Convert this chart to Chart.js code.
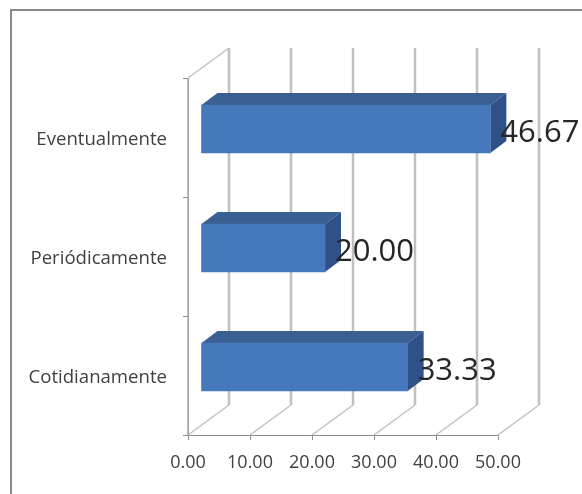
<!DOCTYPE html>
<html>
<head>
<meta charset="utf-8">
<style>
  html, body { margin: 0; padding: 0; background: #fff; }
  #wrap { position: relative; width: 582px; height: 494px; }
</style>
<script src="https://cdn.jsdelivr.net/npm/chart.js@4/dist/chart.umd.min.js"></script>
</head>
<body>
<div id="wrap"><canvas id="barChart" width="582" height="494"></canvas></div>
<script>
const categories = ['Eventualmente', 'Periódicamente', 'Cotidianamente'];
const values = [46.67, 20.00, 33.33];
const axisMin = 0;
const axisMax = 50;
const axisStep = 10;

const FONT = '"Open Sans", Lato, sans-serif';
const GRID = '#c0c0c0';
const AXIS = '#8c8c8c';

// wall depth and bar offset of the fake 3D look
const wallDx = 41, wallDy = -30;
const barDx = 13, barDy = -8.5;
const depthDx = 16, depthDy = -12;

function line(ctx, x1, y1, x2, y2, color, width) {
    ctx.strokeStyle = color;
    ctx.lineWidth = width;
    ctx.beginPath();
    ctx.moveTo(x1, y1);
    ctx.lineTo(x2, y2);
    ctx.stroke();
}

function poly(ctx, pts, color) {
    ctx.fillStyle = color;
    ctx.beginPath();
    pts.forEach((p, i) => i ? ctx.lineTo(p[0], p[1]) : ctx.moveTo(p[0], p[1]));
    ctx.closePath();
    ctx.fill();
}

const frame3d = {
    id: 'frame3d',
    beforeDatasetsDraw(chart) {
        const ctx = chart.ctx;
        const { left, top, bottom } = chart.chartArea;
        const xs = chart.scales.x;

        ctx.save();
        // outer border of the chart object
        line(ctx, 10, 10, 582, 10, '#8a8a8a', 2);
        line(ctx, 11, 9, 11, 494, '#8a8a8a', 2);

        // back wall and floor lines
        xs.ticks.forEach(t => {
            const x = xs.getPixelForValue(t.value);
            line(ctx, x + wallDx, top + wallDy, x + wallDx, bottom + wallDy, GRID, 2.5);
            line(ctx, x, bottom, x + wallDx, bottom + wallDy, '#c0c0c0', 1.5);
        });
        // side wall
        line(ctx, left, top, left, bottom, '#a6a6a6', 1.5);
        line(ctx, left, top, left + wallDx, top + wallDy, '#c0c0c0', 1.5);
        ctx.restore();

        // bars are drawn shifted into the depth of the box
        ctx.save();
        ctx.translate(barDx, barDy);
        chart.getDatasetMeta(0).data.forEach(bar => {
            const h = bar.height / 2;
            poly(ctx, [[bar.base, bar.y - h], [bar.base + depthDx, bar.y - h + depthDy],
                [bar.x + depthDx, bar.y - h + depthDy], [bar.x, bar.y - h]], '#3a5f92');
            poly(ctx, [[bar.x, bar.y - h], [bar.x + depthDx, bar.y - h + depthDy],
                [bar.x + depthDx, bar.y + h + depthDy], [bar.x, bar.y + h]], '#2f5089');
        });
    },
    afterDatasetsDraw(chart) {
        const ctx = chart.ctx;
        ctx.restore();

        ctx.save();
        ctx.font = '31px ' + FONT;
        ctx.fillStyle = '#262626';
        ctx.textAlign = 'left';
        ctx.textBaseline = 'middle';
        chart.getDatasetMeta(0).data.forEach((bar, i) => {
            ctx.fillText(values[i].toFixed(2), bar.x + barDx + 10, bar.y + barDy + 4);
        });
        ctx.restore();
    }
};

const ctx = document.getElementById('barChart').getContext('2d');
const barChart = new Chart(ctx, {
    type: 'bar',
    data: {
        labels: categories,
        datasets: [{
            data: values,
            backgroundColor: '#4679bb',
            borderWidth: 0,
            barThickness: 48,
            clip: false
        }]
    },
    options: {
        indexAxis: 'y',
        responsive: false,
        animation: false,
        layout: { padding: { top: 78, right: 84 } },
        plugins: { legend: { display: false }, tooltip: { enabled: false } },
        scales: {
            x: {
                min: axisMin,
                max: axisMax,
                afterFit: s => { s.height = 59; },
                grid: { drawOnChartArea: false, color: AXIS, tickLength: 5 },
                border: { color: AXIS },
                ticks: {
                    stepSize: axisStep,
                    maxRotation: 0,
                    padding: 12,
                    color: '#404040',
                    font: { family: FONT, size: 18 },
                    callback: v => v.toFixed(2)
                }
            },
            y: {
                afterFit: s => { s.width = 188; },
                grid: { drawOnChartArea: false, color: AXIS, tickLength: 5 },
                border: { color: '#a6a6a6' },
                ticks: {
                    padding: 16,
                    labelOffset: 2,
                    color: '#404040',
                    font: { family: FONT, size: 18.6 }
                }
            }
        }
    },
    plugins: [frame3d]
});
</script>
</body>
</html>
